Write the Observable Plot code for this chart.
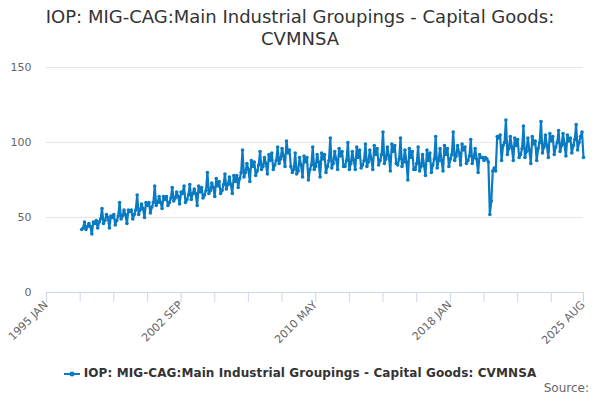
<!DOCTYPE html>
<html><head><meta charset="utf-8">
<script src="https://cdn.jsdelivr.net/npm/d3@7"></script>
<script src="https://cdn.jsdelivr.net/npm/@observablehq/plot@0.6"></script>
<style>
body{margin:0;background:#fff;font-family:"DejaVu Sans",sans-serif;}
#wrap{position:relative;width:600px;height:400px;overflow:hidden;background:#fff;}
#title{position:absolute;top:6px;left:0;width:600px;text-align:center;font-size:18px;color:#333;line-height:22px;}
#chart{position:absolute;top:0;left:0;}
#legend{position:absolute;top:366px;left:0;width:600px;text-align:center;font-size:12px;font-weight:bold;color:#333;white-space:nowrap;letter-spacing:0.1px;}
#legend svg{vertical-align:middle;margin-right:4px;}
#source{position:absolute;top:381px;right:11px;font-size:12px;color:#666;}
</style>
</head><body>
<div id="wrap">
  <div id="chart"></div>
  <div id="title">IOP: MIG-CAG:Main Industrial Groupings - Capital Goods:<br>CVMNSA</div>
  <div id="legend"><svg width="16" height="10"><line x1="0" y1="5" x2="16" y2="5" stroke="#0a7bc2" stroke-width="2"/><circle cx="8" cy="5" r="2.5" fill="#0a7bc2"/></svg><span id="legtext"></span></div>
  <div id="source">Source:</div>
</div>
<script>
const seriesName = "IOP: MIG-CAG:Main Industrial Groupings - Capital Goods: CVMNSA";
const startYear = 1997; // first observation: January 1997, monthly
const values = [
  // 1997
  42, 43, 47, 42, 44, 46, 44, 39, 47, 46, 48, 43,
  // 1998
  47, 49, 56, 46, 48, 52, 50, 43, 51, 50, 52, 45,
  // 1999
  48, 51, 60, 49, 51, 55, 52, 46, 55, 54, 55, 49,
  // 2000
  52, 55, 65, 52, 55, 59, 56, 50, 60, 58, 60, 53,
  // 2001
  57, 60, 71, 58, 60, 64, 60, 56, 64, 62, 64, 58,
  // 2002
  60, 63, 70, 61, 63, 67, 64, 59, 67, 66, 71, 60,
  // 2003
  62, 65, 72, 62, 66, 69, 66, 58, 71, 67, 70, 63,
  // 2004
  65, 68, 80, 66, 68, 73, 70, 64, 76, 71, 74, 66,
  // 2005
  68, 72, 79, 69, 72, 77, 72, 66, 78, 74, 78, 70,
  // 2006
  76, 80, 95, 77, 80, 86, 82, 74, 88, 84, 87, 78,
  // 2007
  81, 85, 94, 82, 84, 90, 86, 79, 92, 88, 93, 82,
  // 2008
  85, 88, 97, 86, 89, 96, 91, 84, 101, 93, 95, 84,
  // 2009
  80, 82, 93, 79, 81, 90, 85, 77, 91, 87, 90, 75,
  // 2010
  82, 85, 97, 82, 84, 92, 87, 77, 93, 89, 92, 80,
  // 2011
  84, 88, 103, 83, 86, 94, 89, 82, 96, 91, 94, 84,
  // 2012
  84, 88, 100, 82, 86, 94, 88, 82, 97, 90, 95, 83,
  // 2013
  85, 88, 99, 84, 87, 95, 89, 82, 98, 92, 96, 85,
  // 2014
  88, 92, 107, 86, 89, 97, 91, 81, 99, 94, 98, 86,
  // 2015
  85, 89, 103, 84, 87, 95, 87, 75, 96, 90, 94, 82,
  // 2016
  82, 86, 97, 81, 84, 92, 85, 78, 95, 88, 93, 80,
  // 2017
  85, 89, 104, 83, 88, 96, 88, 81, 98, 92, 96, 84,
  // 2018
  89, 92, 107, 88, 91, 98, 93, 85, 99, 95, 97, 86,
  // 2019
  88, 91, 102, 86, 90, 96, 89, 80, 92, 90, 90, 88,
  // 2020
  90, 89, 87, 52, 61, 81, 83, 81, 104, 103, 105, 88,
  // 2021
  98, 100, 115, 92, 96, 104, 97, 88, 103, 98, 102, 90,
  // 2022
  92, 96, 111, 90, 94, 103, 95, 86, 104, 99, 101, 88,
  // 2023
  96, 100, 114, 93, 97, 105, 98, 90, 106, 101, 104, 92,
  // 2024
  97, 100, 108, 94, 98, 106, 99, 91, 105, 101, 103, 93,
  // 2025
  98, 102, 112, 95, 100, 104, 107, 90
];
// x-axis tick months [year, month(1-12)]
const xTickMonths = [
  [1995,1],[1996,12],[1998,11],[2000,10],[2002,9],[2004,8],[2006,7],[2008,6],
  [2010,5],[2012,4],[2014,3],[2016,2],[2018,1],[2019,12],[2021,11],[2023,10],[2025,8]
];
const xLabelMonths = [[1995,1],[2002,9],[2010,5],[2018,1],[2025,8]];
const monthNames = ["JAN","FEB","MAR","APR","MAY","JUN","JUL","AUG","SEP","OCT","NOV","DEC"];
const yTicks = [0, 50, 100, 150];

const color = "#0a7bc2";
document.getElementById("legtext").textContent = seriesName;

const ym = ([y, m]) => new Date(Date.UTC(y, m - 1, 1));
const data = values.map((v, i) => ({date: new Date(Date.UTC(startYear, i, 1)), value: v}));
const xTicks = xTickMonths.map(ym);
const xLabels = xLabelMonths.map(ym);
const fmt = d => d.getUTCFullYear() + " " + monthNames[d.getUTCMonth()];

const chart = Plot.plot({
  width: 600, height: 400,
  marginTop: 67, marginBottom: 108, marginLeft: 46, marginRight: 17,
  x: {type: "utc", domain: [ym([1995,1]), ym([2025,8])], axis: null},
  y: {domain: [0, 150], axis: null},
  style: {fontFamily: "DejaVu Sans", fontSize: "11px", background: "transparent", overflow: "visible"},
  marks: [
    Plot.gridY(yTicks.filter(d => d > 0), {stroke: "#e6e6e6", strokeOpacity: 1}),
    Plot.axisY(yTicks, {tickSize: 0, tickPadding: 15, fill: "#666", fontSize: 11, label: null}),
    Plot.axisX(xTicks, {tickSize: 10, stroke: "#ccd6eb", strokeOpacity: 1, tickFormat: () => "", label: null}),
    Plot.ruleY([0], {stroke: "#ccd6eb"}),
    Plot.text(xLabels, {x: d => d, frameAnchor: "bottom", text: fmt, rotate: -45, textAnchor: "end", dx: 2, dy: 13, fill: "#666", fontSize: 11}),
    Plot.line(data, {x: "date", y: "value", stroke: color, strokeWidth: 2.2}),
    Plot.dot(data, {x: "date", y: "value", r: 1.8, fill: color})
  ]
});
document.getElementById("chart").appendChild(chart);
</script>
</body></html>
